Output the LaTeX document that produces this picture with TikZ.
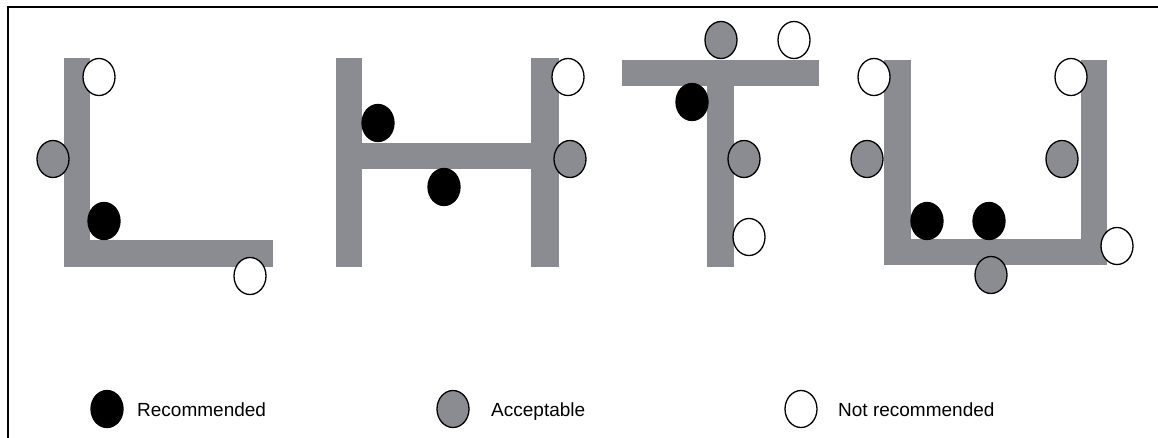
\documentclass[tikz,border=0pt]{standalone}
\usepackage{fontspec}
\setmainfont{Liberation Sans}
\usetikzlibrary{shapes.geometric}
\definecolor{steelgray}{RGB}{139,140,145}
\tikzset{
  bar/.style={fill=steelgray},
  weld/.style={ellipse, draw=black, line width=1.3pt, minimum width=32pt, minimum height=37pt, inner sep=0pt},
  rec/.style={weld, fill=black},
  acc/.style={weld, fill=steelgray},
  notrec/.style={weld, fill=white},
  legendtext/.style={anchor=base west, inner sep=0pt, font=\fontsize{19}{22}\selectfont}
}
\begin{document}
\begin{tikzpicture}[x=1pt, y=-1pt]
\useasboundingbox (0,0) rectangle (1158,438);
% frame
\draw[line width=2pt] (8,438) -- (8,7) -- (1158,7);

% L section
\fill[bar] (64,58) rectangle (90,267);
\fill[bar] (64,240) rectangle (273,267);
% H section
\fill[bar] (336,58) rectangle (362,267);
\fill[bar] (531,58) rectangle (559,267);
\fill[bar] (362,143) rectangle (531,169);
% T section
\fill[bar] (622,60) rectangle (819,86);
\fill[bar] (707,86) rectangle (734,267);
% U section
\fill[bar] (884,60) rectangle (911,265);
\fill[bar] (1081,60) rectangle (1107,265);
\fill[bar] (884,239) rectangle (1107,265);

% weld positions on L
\node[notrec] (l1) at (99,77) {};
\node[acc]    (l2) at (53,159) {};
\node[rec]    (l3) at (104,221) {};
\node[notrec] (l4) at (250,276) {};
% weld positions on H
\node[rec]    (h1) at (378,123) {};
\node[rec]    (h2) at (444,187) {};
\node[notrec] (h3) at (568,77) {};
\node[acc]    (h4) at (570,159) {};
% weld positions on T
\node[acc]    (t1) at (721,40) {};
\node[notrec] (t2) at (794,40) {};
\node[rec]    (t3) at (692,102) {};
\node[acc]    (t4) at (744,159) {};
\node[notrec] (t5) at (749,237) {};
% weld positions on U
\node[notrec] (u1) at (874,77) {};
\node[acc]    (u2) at (867,159) {};
\node[rec]    (u3) at (927,221) {};
\node[rec]    (u4) at (989,221) {};
\node[notrec] (u5) at (1071,77) {};
\node[acc]    (u6) at (1062,159) {};
\node[notrec] (u7) at (1117,246) {};
\node[acc]    (u8) at (991,275) {};

% legend
\node[rec]    (k1) at (107,409) {};
\node[legendtext] (k1t) at (137,416) {Recommended};
\node[acc]    (k2) at (453,409) {};
\node[legendtext] (k2t) at (491,416) {Acceptable};
\node[notrec] (k3) at (801,409) {};
\node[legendtext] (k3t) at (838,416) {Not recommended};
\end{tikzpicture}
\end{document}
